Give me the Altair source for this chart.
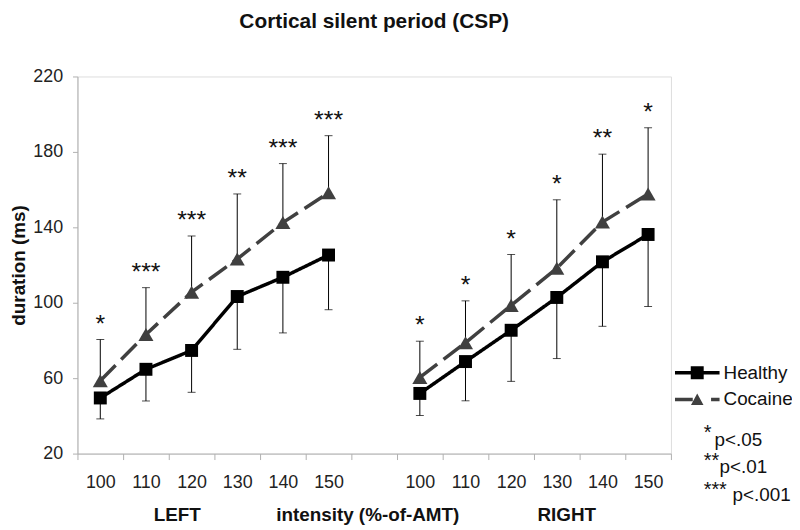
import altair as alt
import pandas as pd

# ---------------- data ----------------
intensities = [100, 110, 120, 130, 140, 150]
groups = ["Healthy", "Cocaine"]

healthy_left = [49.5, 64.7, 74.7, 103.3, 113.5, 125.3]
healthy_right = [51.9, 68.8, 85.4, 102.8, 121.7, 136.2]
cocaine_left = [58.6, 83.2, 105.6, 123.2, 142.5, 158.3]
cocaine_right = [60.4, 78.8, 98.6, 118.3, 142.8, 157.7]

healthy_lo_left = [38.4, 47.9, 52.5, 75.3, 84.0, 96.3]
healthy_lo_right = [40.2, 48.0, 58.3, 70.4, 87.5, 98.0]
cocaine_hi_left = [80.5, 108.0, 135.4, 157.7, 173.8, 188.6]
cocaine_hi_right = [79.6, 101.0, 125.6, 154.6, 178.8, 192.8]

stars_left = ["*", "***", "***", "**", "***", "***"]
stars_right = ["*", "*", "*", "*", "**", "*"]

note_stars = ["*", "**", "***"]
note_labels = ["p<.05", "p<.01", "p<.001"]

y_ticks = [20, 60, 100, 140, 180, 220]

# ---------------- tables ----------------
keys_left = [f"L{i}" for i in intensities]
keys_right = [f"R{i}" for i in intensities]
domain = keys_left + ["gap"] + keys_right

rows = []
err = []
for side, keys, h, c, hlo, chi, st in [
    ("LEFT", keys_left, healthy_left, cocaine_left, healthy_lo_left, cocaine_hi_left, stars_left),
    ("RIGHT", keys_right, healthy_right, cocaine_right, healthy_lo_right, cocaine_hi_right, stars_right),
]:
    for i, k in enumerate(keys):
        rows.append({"key": k, "side": side, "group": "Healthy", "value": h[i]})
        rows.append({"key": k, "side": side, "group": "Cocaine", "value": c[i]})
        err.append({"key": k, "side": side, "h": h[i], "hlo": hlo[i], "c": c[i], "chi": chi[i], "stars": st[i]})

df = pd.DataFrame(rows)
edf = pd.DataFrame(err)

FONT = "Liberation Sans"

x_enc = alt.X(
    "key:N",
    sort=domain,
    scale=alt.Scale(domain=domain, type="band", paddingInner=0, paddingOuter=0),
    axis=alt.Axis(
        title=None,
        labelExpr="(isString(datum.value) && datum.value != 'gap') ? substring(datum.value, 1) : ''",
        labelAngle=0,
        tickBand="extent",
        tickSize=6,
        labelPadding=14,
        labelFontSize=18,
        labelColor="#222222",
        domainColor="#b0b0b0",
        tickColor="#b0b0b0",
    ),
)
y_scale = alt.Scale(domain=[20, 220], nice=False, zero=False)
y_axis = alt.Axis(
    values=y_ticks,
    title="duration (ms)",
    titleFontSize=19,
    titleFontWeight="bold",
    titlePadding=4,
    grid=False,
    tickSize=5,
    labelPadding=10,
    labelFontSize=18,
    labelColor="#222222",
    domainColor="#b0b0b0",
    tickColor="#b0b0b0",
)

color_scale = alt.Scale(domain=groups, range=["#000000", "#404040"])
dash_scale = alt.Scale(domain=groups, range=[[1, 0], [22, 8]])

base = alt.Chart(df)
ebase = alt.Chart(edf)

err_up = ebase.mark_rule(color="#000000", strokeWidth=1).encode(
    x=x_enc, y=alt.Y("c:Q", scale=y_scale, axis=y_axis), y2="chi:Q"
)
err_dn = ebase.mark_rule(color="#000000", strokeWidth=1).encode(
    x=alt.X("key:N", sort=domain), y=alt.Y("hlo:Q"), y2="h:Q"
)
cap_up = ebase.mark_tick(color="#000000", thickness=1, size=8, orient="horizontal").encode(
    x=alt.X("key:N", sort=domain), y=alt.Y("chi:Q")
)
cap_dn = ebase.mark_tick(color="#000000", thickness=1, size=8, orient="horizontal").encode(
    x=alt.X("key:N", sort=domain), y=alt.Y("hlo:Q")
)

lines = base.mark_line(strokeWidth=3.5).encode(
    x=alt.X("key:N", sort=domain),
    y=alt.Y("value:Q"),
    color=alt.Color("group:N", scale=color_scale, legend=None),
    strokeDash=alt.StrokeDash("group:N", scale=dash_scale, legend=None),
    detail="side:N",
)

pts_h = base.transform_filter("datum.group == 'Healthy'").mark_point(
    filled=True, shape="square", size=170, opacity=1
).encode(
    x=alt.X("key:N", sort=domain),
    y=alt.Y("value:Q"),
    color=alt.Color("group:N", scale=color_scale, legend=None),
)
pts_c = base.transform_filter("datum.group == 'Cocaine'").mark_point(
    filled=True, shape="triangle-up", size=230, opacity=1
).encode(
    x=alt.X("key:N", sort=domain),
    y=alt.Y("value:Q"),
    color=alt.Color("group:N", scale=color_scale, legend=None),
)

# legend-only layer (custom symbols: line + marker)
sym_healthy = "M-1,-0.075H1V0.075H-1Z M-0.29,-0.29H0.29V0.29H-0.29Z"
sym_cocaine = "M-1,-0.075H-0.2V0.075H-1Z M0.62,-0.075H1V0.075H0.62Z M-0.28,0.25L0,-0.27L0.28,0.25Z"
leg = alt.Legend(
    title=None,
    orient="none",
    legendX=602,
    legendY=285,
    labelFontSize=19,
    labelColor="#111111",
    labelFont=FONT,
    labelOffset=4,
    rowPadding=0,
    clipHeight=27,
    symbolSize=2025,
    symbolStrokeWidth=0,
    symbolOpacity=1,
)
legend_layer = base.transform_filter("false").mark_point(
    filled=True, size=2025, opacity=1, strokeWidth=0
).encode(
    color=alt.Color("group:N", scale=color_scale, legend=leg),
    shape=alt.Shape("group:N", scale=alt.Scale(domain=groups, range=[sym_healthy, sym_cocaine]), legend=leg),
)

stars = ebase.mark_text(fontSize=25, baseline="alphabetic", dy=-8, color="#111111", font=FONT).encode(
    x=alt.X("key:N", sort=domain), y=alt.Y("chi:Q"), text="stars:N"
)

# annotation texts
ann = []
for txt, xpos in zip(["LEFT", "intensity (%-of-AMT)", "RIGHT"], [100.5, 292.5, 493]):
    ann.append(
        alt.Chart(pd.DataFrame({"t": [txt]})).mark_text(
            fontSize=19, fontWeight="bold", baseline="alphabetic", align="center", color="#111111", font=FONT
        ).encode(x=alt.value(xpos), y=alt.value(448), text="t:N")
    )

star_x = [631, 631, 631]
star_y = [365, 394, 423]
p_x = [642, 647, 660]
p_y = [372, 400, 428]
for s, lab, sx, sy, px, py in zip(note_stars, note_labels, star_x, star_y, p_x, p_y):
    ann.append(
        alt.Chart(pd.DataFrame({"t": [s]})).mark_text(
            fontSize=20, baseline="alphabetic", align="left", color="#111111", font=FONT
        ).encode(x=alt.value(sx), y=alt.value(sy), text="t:N")
    )
    ann.append(
        alt.Chart(pd.DataFrame({"t": [lab]})).mark_text(
            fontSize=19, baseline="alphabetic", align="left", color="#111111", font=FONT
        ).encode(x=alt.value(px), y=alt.value(py), text="t:N")
    )

chart = alt.layer(
    err_up, err_dn, cap_up, cap_dn, lines, pts_h, pts_c, legend_layer, stars, *ann
).resolve_legend(
    color="independent", shape="independent", strokeDash="independent"
).properties(
    width=598,
    height=380,
    title=alt.TitleParams(
        "Cortical silent period (CSP)",
        fontSize=21,
        fontWeight="bold",
        font=FONT,
        anchor="middle",
        color="#111111",
        offset=36,
    ),
    padding={"left": 70, "top": 67, "right": 122, "bottom": 75},
    autosize="none",
).configure_view(stroke=None).configure(font=FONT).configure_axis(
    labelFont=FONT, titleFont=FONT, titleColor="#111111"
)

chart.save("out.html", embed_options={"renderer": "svg", "actions": False})
